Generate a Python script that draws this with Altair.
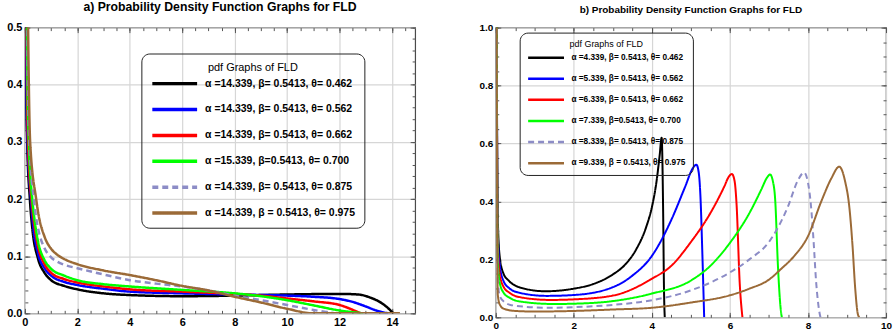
import altair as alt
import pandas as pd

FONT = "Liberation Sans, Arial, sans-serif"

# ---------------- panel a) ----------------
A_LABELS = [
    "α =14.339, β= 0.5413, θ= 0.462",
    "α =14.339, β= 0.5413, θ= 0.562",
    "α =14.339, β= 0.5413, θ= 0.662",
    "α =15.339, β=0.5413, θ= 0.700",
    "α =14.339, β= 0.5413, θ= 0.875",
    "α =14.339, β = 0.5413, θ= 0.975",
]
a_black_x = [0.03, 0.05, 0.088, 0.19, 0.28, 0.5, 0.75, 1, 1.5, 2, 3, 4, 6, 8, 10, 12, 12.7, 13.2, 13.6, 13.85, 14.05]
a_black_y = [0.6, 0.4, 0.3, 0.2, 0.15, 0.096, 0.071, 0.058, 0.048, 0.042, 0.035, 0.032, 0.030, 0.031, 0.033, 0.034, 0.033, 0.027, 0.018, 0.009, 0.0]
a_blue_x = [0.04, 0.06, 0.1, 0.23, 0.3, 0.5, 0.75, 1, 1.5, 2, 3, 4, 6, 8, 10, 11, 12, 12.5, 13, 13.4, 13.85]
a_blue_y = [0.6, 0.4, 0.3, 0.2, 0.16, 0.105, 0.079, 0.066, 0.055, 0.0496, 0.043, 0.038, 0.035, 0.033, 0.031, 0.029, 0.025, 0.020, 0.012, 0.005, 0.0]
a_red_x = [0.05, 0.08, 0.12, 0.25, 0.33, 0.5, 0.75, 1, 1.5, 2, 3, 4, 6, 8, 9, 10, 11, 12, 12.4, 12.8]
a_red_y = [0.6, 0.4, 0.3, 0.2, 0.165, 0.117, 0.086, 0.071, 0.06, 0.054, 0.047, 0.042, 0.038, 0.034, 0.031, 0.026, 0.021, 0.0146, 0.008, 0.0]
a_green_x = [0.06, 0.1, 0.15, 0.28, 0.35, 0.5, 0.75, 1, 1.5, 2, 3, 4, 6, 8, 9, 10, 11, 12, 12.5, 12.9]
a_green_y = [0.6, 0.4, 0.3, 0.2, 0.17, 0.126, 0.093, 0.078, 0.066, 0.058, 0.051, 0.047, 0.041, 0.035, 0.030, 0.023, 0.014, 0.005, 0.002, 0.0]
a_dash_x = [0.08, 0.12, 0.17, 0.34, 0.42, 0.5, 0.75, 1, 1.25, 1.5, 2, 3, 4, 5, 6, 7, 8, 9, 10, 11, 11.8]
a_dash_y = [0.6, 0.4, 0.3, 0.2, 0.17, 0.149, 0.114, 0.098, 0.09, 0.085, 0.079, 0.068, 0.058, 0.052, 0.047, 0.040, 0.031, 0.023, 0.0146, 0.006, 0.0]
a_brown_x = [0.1, 0.15, 0.2, 0.43, 0.5, 0.75, 1, 1.25, 1.5, 2, 3, 4, 5, 6, 7, 8, 9, 10, 11, 12, 13, 14.3]
a_brown_y = [0.6, 0.4, 0.3, 0.2, 0.178, 0.134, 0.113, 0.102, 0.095, 0.086, 0.075, 0.067, 0.058, 0.048, 0.040, 0.029, 0.019, 0.008, 0.0, 0.0, 0.0, 0.0]

# ---------------- panel b) ----------------
B_LABELS = [
    "α =4.339, β= 0.5413, θ= 0.462",
    "α =5.339, β= 0.5413, θ= 0.562",
    "α =6.339, β= 0.5413, θ= 0.662",
    "α =7.339, β=0.5413, θ= 0.700",
    "α =8.339, β= 0.5413, θ= 0.875",
    "α =9.339, β = 0.5413, θ= 0.975",
]
b_black_x = [0.02, 0.05, 0.1, 0.2, 0.33, 0.6, 1.27, 2, 2.5, 3.0, 3.3, 3.6, 3.85, 4.0, 4.12, 4.2, 4.25, 4.29, 4.31, 4.33]
b_black_y = [1.1, 0.35, 0.21, 0.15, 0.127, 0.104, 0.09, 0.099, 0.115, 0.148, 0.18, 0.235, 0.31, 0.38, 0.47, 0.56, 0.62, 0.35, 0.1, 0.0]
b_blue_x = [0.02, 0.05, 0.1, 0.2, 0.35, 0.6, 1.3, 2, 3, 3.5, 4, 4.5, 4.85, 5.05, 5.14, 5.2, 5.25, 5.29, 5.34]
b_blue_y = [1.1, 0.3, 0.18, 0.125, 0.1, 0.085, 0.074, 0.077, 0.104, 0.144, 0.212, 0.337, 0.45, 0.515, 0.527, 0.5, 0.4, 0.235, 0.0]
b_red_x = [0.02, 0.05, 0.1, 0.2, 0.35, 0.6, 1.4, 2, 3, 4, 4.5, 5, 5.5, 5.85, 5.97, 6.05, 6.12, 6.17, 6.25, 6.32]
b_red_y = [1.1, 0.25, 0.15, 0.105, 0.085, 0.07, 0.06, 0.062, 0.075, 0.133, 0.178, 0.26, 0.36, 0.45, 0.485, 0.495, 0.47, 0.39, 0.12, 0.0]
b_green_x = [0.02, 0.05, 0.1, 0.2, 0.35, 0.6, 1.5, 2, 3, 4, 5, 5.5, 6, 6.5, 6.8, 6.95, 7.03, 7.1, 7.16, 7.23, 7.3, 7.33]
b_green_y = [1.1, 0.2, 0.12, 0.085, 0.068, 0.055, 0.046, 0.047, 0.056, 0.082, 0.127, 0.178, 0.257, 0.36, 0.44, 0.482, 0.493, 0.47, 0.405, 0.178, 0.03, 0.0]
b_dash_x = [0.02, 0.05, 0.1, 0.2, 0.4, 1.3, 2, 3, 4, 5, 6, 6.5, 7, 7.48, 7.75, 7.9, 8.0, 8.08, 8.14, 8.21, 8.29, 8.32]
b_dash_y = [1.1, 0.13, 0.075, 0.055, 0.042, 0.033, 0.035, 0.043, 0.059, 0.093, 0.155, 0.2, 0.26, 0.38, 0.475, 0.5, 0.465, 0.38, 0.27, 0.12, 0.02, 0.0]
b_brown_x = [0.02, 0.05, 0.1, 0.2, 0.5, 1, 2, 3, 4, 5, 6, 6.5, 7, 7.31, 7.65, 8.0, 8.34, 8.6, 8.8, 8.95, 9.06, 9.14, 9.21, 9.28, 9.32]
b_brown_y = [1.1, 0.08, 0.045, 0.03, 0.022, 0.02, 0.022, 0.027, 0.033, 0.051, 0.076, 0.099, 0.13, 0.167, 0.212, 0.28, 0.4, 0.48, 0.52, 0.47, 0.38, 0.25, 0.1, 0.01, 0.0]

COLORS = ["#000000", "#0000ff", "#ff0000", "#00ff00", "#8c8cc6", "#9b6a37"]
DASHES = [[1, 0], [1, 0], [1, 0], [1, 0], [6, 4], [1, 0]]
TICK = "#555555"


def long_table(labels, xs, ys):
    rows = []
    for lab, xv, yv in zip(labels, xs, ys):
        rows += [{"x": a, "y": b, "series": lab} for a, b in zip(xv, yv)]
    return pd.DataFrame(rows)


def steps(lo, hi, step):
    n = int(round((hi - lo) / step))
    return [round(lo + i * step, 4) for i in range(n + 1)]


def tick_layer(src, xdom, ydom, xv, yv, size, xo, yo):
    # invisible layer that only carries an inward-pointing tick axis
    return alt.Chart(src).mark_point(opacity=0, clip=True).encode(
        x=alt.X("x:Q", scale=alt.Scale(domain=xdom),
                axis=alt.Axis(orient=xo, values=xv, labels=False, domain=False, grid=False,
                              tickSize=size, offset=-size, tickColor=TICK, tickWidth=1, title=None)),
        y=alt.Y("y:Q", scale=alt.Scale(domain=ydom),
                axis=alt.Axis(orient=yo, values=yv, labels=False, domain=False, grid=False,
                              tickSize=size, offset=-size, tickColor=TICK, tickWidth=1, title=None)),
    )


def panel(src, labels, xdom, ydom, xmaj, xmin, ymaj, ymin, w, h, title, tsize,
          lsize, ltsize, lx, ly, row_gap, sym_len, sym_w, lw, axis_fs, pad):
    legend = alt.Legend(
        title="pdf Graphs of FLD", orient="none", legendX=lx, legendY=ly,
        symbolType="stroke", symbolSize=sym_len ** 2, symbolStrokeWidth=sym_w,
        clipHeight=lsize,
        labelFont=FONT, labelFontSize=lsize, labelFontWeight="bold", labelColor="black",
        labelOffset=6, labelLimit=400,
        titleFont=FONT, titleFontSize=ltsize, titleFontWeight="normal", titleColor="black",
        titleAnchor="middle", titlePadding=5,
        strokeColor="#222222", cornerRadius=8, padding=pad,
        rowPadding=row_gap - lsize,
    )
    lines = alt.Chart(src).mark_line(strokeWidth=lw, clip=True, interpolate="monotone").encode(
        x=alt.X("x:Q", scale=alt.Scale(domain=xdom, nice=False, zero=False),
                axis=alt.Axis(orient="bottom", values=xmaj, format="d", grid=True, ticks=False,
                              domain=False, gridColor="#d6d6d6", gridWidth=1.2, labelFont=FONT,
                              labelFontSize=axis_fs, labelFontWeight="bold", labelColor="black",
                              labelPadding=3, labelFlush=False, title=None)),
        y=alt.Y("y:Q", scale=alt.Scale(domain=ydom, nice=False, zero=False),
                axis=alt.Axis(orient="left", values=ymaj, format=".1f", grid=True, ticks=False,
                              domain=False, gridColor="#d6d6d6", gridWidth=1.2, labelFont=FONT,
                              labelFontSize=axis_fs, labelFontWeight="bold", labelColor="black",
                              labelPadding=3, title=None)),
        color=alt.Color("series:N", scale=alt.Scale(domain=labels, range=COLORS), legend=legend),
        strokeDash=alt.StrokeDash("series:N", scale=alt.Scale(domain=labels, range=DASHES), legend=legend),
    )
    return alt.layer(
        lines,
        tick_layer(src, xdom, ydom, xmaj, ymaj, 5, "bottom", "left"),
        tick_layer(src, xdom, ydom, xmin, ymin, 3, "bottom", "left"),
        tick_layer(src, xdom, ydom, xmaj, ymaj, 5, "top", "right"),
        tick_layer(src, xdom, ydom, xmin, ymin, 3, "top", "right"),
    ).resolve_axis(x="independent", y="independent").properties(
        width=w, height=h,
        title=alt.TitleParams(title, font=FONT, fontSize=tsize, fontWeight="bold",
                              color="black", anchor="middle", offset=8),
    )


df_a = long_table(A_LABELS,
                  [a_black_x, a_blue_x, a_red_x, a_green_x, a_dash_x, a_brown_x],
                  [a_black_y, a_blue_y, a_red_y, a_green_y, a_dash_y, a_brown_y])
df_b = long_table(B_LABELS,
                  [b_black_x, b_blue_x, b_red_x, b_green_x, b_dash_x, b_brown_x],
                  [b_black_y, b_blue_y, b_red_y, b_green_y, b_dash_y, b_brown_y])

left = panel(df_a, A_LABELS, [0, 14.88], [0, 0.5],
             steps(0, 14, 2), steps(0, 14.5, 0.5), steps(0, 0.5, 0.1), steps(0, 0.5, 0.02),
             392, 287, "a) Probability Density Function Graphs for FLD", 12.3,
             10.5, 11, 117, 26, 25.5, 45, 3.5, 2.5, 11, 9)
right = panel(df_b, B_LABELS, [0, 10], [0, 1],
              steps(0, 10, 2), steps(0, 10, 0.5), steps(0, 1, 0.2), steps(0, 1, 0.05),
              392, 291, "b) Probability Density Function Graphs for FLD", 10,
              8.3, 9, 24, 5, 19.5, 36, 2.5, 2.0, 10, 7)

chart = alt.hconcat(left, right, spacing=61).resolve_scale(
    color="independent", strokeDash="independent"
).resolve_legend(color="independent", strokeDash="independent").configure(
    background="white", padding={"left": 6, "top": 0, "right": 0, "bottom": 0}
).configure_view(stroke="#4a4a4a", strokeWidth=1.2)

chart.save("out.html", embed_options={"renderer": "svg", "actions": False})
